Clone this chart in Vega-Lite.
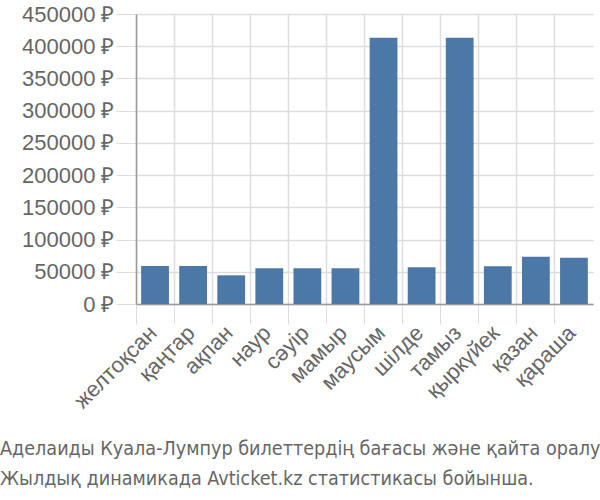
{
  "$schema": "https://vega.github.io/schema/vega-lite/v6.json",
  "width": 457,
  "height": 290,
  "autosize": {"type": "none"},
  "padding": {"left": 136, "top": 14, "right": 7, "bottom": 196},
  "config": {"view": {"stroke": null}, "font": "Liberation Sans"},
  "title": {
    "text": ["Аделаиды Куала-Лумпур билеттердің бағасы және қайта оралу", "Жылдық динамикада Avticket.kz статистикасы бойынша."],
    "orient": "bottom",
    "anchor": "start",
    "frame": "group",
    "dx": -136,
    "offset": 28,
    "font": "DejaVu Sans Condensed",
    "fontSize": 19.6,
    "fontWeight": "normal",
    "color": "#666",
    "lineHeight": 30
  },
  "data": {
    "values": [
      {"month": "желтоқсан", "price": 59000},
      {"month": "қаңтар", "price": 59000},
      {"month": "ақпан", "price": 44500},
      {"month": "наур", "price": 55400},
      {"month": "сәуір", "price": 55400},
      {"month": "мамыр", "price": 55400},
      {"month": "маусым", "price": 413000},
      {"month": "шілде", "price": 57000},
      {"month": "тамыз", "price": 413000},
      {"month": "қыркүйек", "price": 58500},
      {"month": "қазан", "price": 73400},
      {"month": "қараша", "price": 71900}
    ]
  },
  "mark": {"type": "bar", "width": {"band": 0.73}, "color": "#4c78a8"},
  "encoding": {
    "x": {
      "field": "month",
      "type": "nominal",
      "sort": null,
      "scale": {"paddingInner": 0, "paddingOuter": 0},
      "axis": {
        "title": null,
        "labelAngle": -45,
        "labelAlign": "right",
        "labelBaseline": "middle",
        "labelFontSize": 22,
        "labelColor": "#666",
        "labelPadding": 5,
        "labelOffset": -2,
        "bandPosition": 0,
        "tickSize": 20,
        "tickColor": "#ddd",
        "domainColor": "#999",
        "domainWidth": 1.5,
        "grid": true,
        "gridColor": "#ddd",
        "gridWidth": 1.5
      }
    },
    "y": {
      "field": "price",
      "type": "quantitative",
      "scale": {"domain": [0, 450000], "nice": false},
      "axis": {
        "title": null,
        "values": [0, 50000, 100000, 150000, 200000, 250000, 300000, 350000, 400000, 450000],
        "labelExpr": "datum.value + ' ₽'",
        "labelFontSize": 22,
        "labelColor": "#666",
        "labelPadding": 2,
        "tickSize": 20,
        "tickColor": "#ddd",
        "domainColor": "#999",
        "domainWidth": 1.5,
        "gridColor": "#ddd",
        "gridWidth": 1.5
      }
    }
  }
}
